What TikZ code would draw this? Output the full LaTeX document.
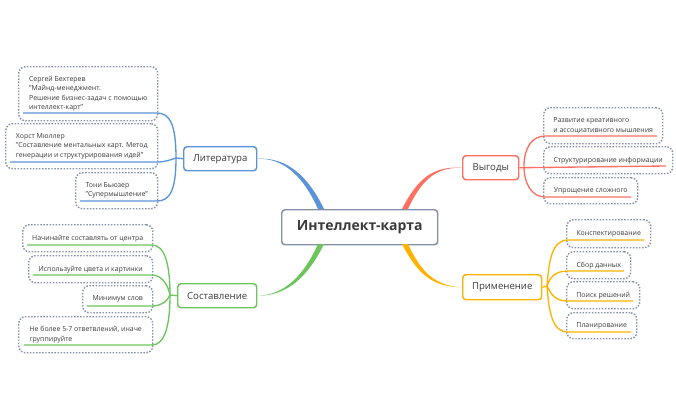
\documentclass[tikz,border=0pt]{standalone}
\usepackage{fontspec}
\setmainfont{Open Sans}
\definecolor{litblue}{HTML}{5B93D8}
\definecolor{sostgreen}{HTML}{6CC55C}
\definecolor{vygred}{HTML}{FF6F61}
\definecolor{primyellow}{HTML}{FFB300}
\definecolor{slateline}{HTML}{8490A8}
\definecolor{inktext}{HTML}{3A3A3A}
\begin{document}
\begin{tikzpicture}[x=0.75pt, y=-0.75pt]
    % Styles
    \tikzstyle{leaf} = [draw=slateline, line width=1.1pt, dash pattern=on 1.1pt off 1.2pt, rounded corners=5pt, anchor=north west, inner sep=0pt, align=left, font=\fontsize{5.2}{6.9}\selectfont, text=inktext]
    \tikzstyle{topic} = [draw, fill=white, line width=1.1pt, rounded corners=2.5pt, anchor=north west, inner sep=0pt, minimum height=18pt, font=\fontsize{7.2}{9}\selectfont, text=inktext]
    \tikzstyle{root} = [topic, draw=slateline, minimum width=117pt, minimum height=26.25pt, font=\fontsize{10.5}{13}\selectfont\bfseries, text=inktext]
    \tikzstyle{edge} = [line width=1pt]

    \useasboundingbox (0, 0) rectangle (676, 418);

    % Nodes
    \node[root] (center) at (281, 209) {Интеллект-карта};

    \node[topic, draw=litblue, minimum width=54.75pt] (lit) at (183, 146) {Литература};
    \node[leaf, minimum width=104.25pt, minimum height=40.5pt] (lit1) at (18, 66) {Сергей Бехтерев\\"Майнд-менеджмент.\\Решение бизнес-задач с помощью\\интеллект-карт"};
    \node[leaf, minimum width=114pt, minimum height=33.75pt] (lit2) at (5, 123) {Хорст Мюллер\\"Составление ментальных карт. Метод\\генерации и структурирования идей"};
    \node[leaf, minimum width=61.5pt, minimum height=27pt] (lit3) at (75, 172) {Тони Бьюзер\\"Супермышление"};

    \node[topic, draw=sostgreen, minimum width=59.25pt] (sost) at (177, 283) {Составление};
    \node[leaf, minimum width=97.5pt, minimum height=20.25pt] (sost1) at (22, 224) {Начинайте составлять от центра};
    \node[leaf, minimum width=93pt, minimum height=20.25pt] (sost2) at (28, 255) {Используйте цвета и картинки};
    \node[leaf, minimum width=52.5pt, minimum height=20.25pt] (sost3) at (82, 285) {Минимум слов};
    \node[leaf, minimum width=100.5pt, minimum height=27pt] (sost4) at (18, 316) {Не более 5-7 ответвлений, иначе\\группируйте};

    \node[topic, draw=vygred, minimum width=42pt] (vyg) at (462, 155) {Выгоды};
    \node[leaf, minimum width=89.25pt, minimum height=27pt] (vyg1) at (543, 107) {Развитие креативного\\и ассоциативного мышления};
    \node[leaf, minimum width=96.75pt, minimum height=20.25pt] (vyg2) at (543, 146) {Структурирование информации};
    \node[leaf, minimum width=70.5pt, minimum height=19.5pt] (vyg3) at (543, 177) {Упрощение сложного};

    \node[topic, draw=primyellow, minimum width=59.25pt, minimum height=18.75pt] (prim) at (462, 274) {Применение};
    \node[leaf, minimum width=63pt, minimum height=21pt] (prim1) at (566, 219) {Конспектирование};
    \node[leaf, minimum width=48pt, minimum height=20.25pt] (prim2) at (566, 251) {Сбор данных};
    \node[leaf, minimum width=54.75pt, minimum height=20.25pt] (prim3) at (566, 281) {Поиск решений};
    \node[leaf, minimum width=52.5pt, minimum height=19.5pt] (prim4) at (566, 312) {Планирование};

    % Junctions and underlines
    \coordinate (litj) at (176, 158);
    \coordinate (lit1a) at (23, 113);
    \coordinate (lit1b) at (157, 113);
    \coordinate (lit2a) at (10, 162);
    \coordinate (lit2b) at (157, 162);
    \coordinate (lit3a) at (80, 201);
    \coordinate (lit3b) at (157, 201);

    \coordinate (sostj) at (170, 295);
    \coordinate (sost1a) at (27, 245);
    \coordinate (sost1b) at (152, 245);
    \coordinate (sost2a) at (33, 275);
    \coordinate (sost2b) at (152, 275);
    \coordinate (sost3a) at (87, 306);
    \coordinate (sost3b) at (152, 306);
    \coordinate (sost4a) at (24, 345);
    \coordinate (sost4b) at (152, 345);

    \coordinate (vygj) at (524, 166);
    \coordinate (vyg1a) at (545, 136);
    \coordinate (vyg1b) at (657, 136);
    \coordinate (vyg2b) at (666, 166);
    \coordinate (vyg3a) at (545, 197);
    \coordinate (vyg3b) at (631, 197);

    \coordinate (primj) at (547, 286);
    \coordinate (prim1a) at (568, 240);
    \coordinate (prim1b) at (644, 240);
    \coordinate (prim2a) at (568, 271);
    \coordinate (prim2b) at (624, 271);
    \coordinate (prim3a) at (568, 301);
    \coordinate (prim3b) at (633, 301);
    \coordinate (prim4a) at (568, 332);
    \coordinate (prim4b) at (631, 332);

    % Main branches
    \coordinate (litm1) at (318, 209);
    \coordinate (litm2) at (324, 209);
    \coordinate (sostm1) at (318, 244);
    \coordinate (sostm2) at (324, 244);
    \coordinate (vygm1) at (402, 209);
    \coordinate (vygm2) at (408, 209);
    \coordinate (primm1) at (402, 244);
    \coordinate (primm2) at (408, 244);
    \fill[litblue] (lit.east) .. controls (285, 158) and (304, 178) .. (litm1) -- (litm2) .. controls (308, 176) and (287, 157) .. (lit.east);
    \fill[sostgreen] (sost.east) .. controls (285, 295) and (304, 275) .. (sostm1) -- (sostm2) .. controls (308, 277) and (287, 296) .. (sost.east);
    \fill[vygred] (vyg.west) .. controls (433, 166) and (418, 178) .. (vygm1) -- (vygm2) .. controls (421, 181) and (435, 167) .. (vyg.west);
    \fill[primyellow] (prim.west) .. controls (433, 287) and (418, 275) .. (primm1) -- (primm2) .. controls (421, 272) and (435, 286) .. (prim.west);

    % Edges
    \draw[edge, litblue] (lit.west) -- (litj);
    \draw[edge, litblue] (lit1a) -- (lit1b) .. controls (170, 113) and (176, 125) .. (litj);
    \draw[edge, litblue] (lit2a) -- (lit2b) .. controls (165, 162) and (170, 160) .. (litj);
    \draw[edge, litblue] (lit3a) -- (lit3b) .. controls (170, 201) and (176, 190) .. (litj);

    \draw[edge, sostgreen] (sost.west) -- (sostj);
    \draw[edge, sostgreen] (sost1a) -- (sost1b) .. controls (165, 245) and (170, 265) .. (sostj);
    \draw[edge, sostgreen] (sost2a) -- (sost2b) .. controls (162, 275) and (168, 285) .. (sostj);
    \draw[edge, sostgreen] (sost3a) -- (sost3b) .. controls (162, 306) and (168, 300) .. (sostj);
    \draw[edge, sostgreen] (sost4a) -- (sost4b) .. controls (165, 345) and (170, 325) .. (sostj);

    \draw[edge, vygred] (vyg.east) -- (vyg2b);
    \draw[edge, vygred] (vygj) .. controls (524, 148) and (532, 136) .. (vyg1a) -- (vyg1b);
    \draw[edge, vygred] (vygj) .. controls (524, 184) and (532, 197) .. (vyg3a) -- (vyg3b);

    \draw[edge, primyellow] (prim.east) -- (primj);
    \draw[edge, primyellow] (primj) .. controls (549, 260) and (552, 240) .. (prim1a) -- (prim1b);
    \draw[edge, primyellow] (primj) .. controls (550, 278) and (554, 271) .. (prim2a) -- (prim2b);
    \draw[edge, primyellow] (primj) .. controls (552, 296) and (556, 301) .. (prim3a) -- (prim3b);
    \draw[edge, primyellow] (primj) .. controls (549, 312) and (552, 332) .. (prim4a) -- (prim4b);
\end{tikzpicture}
\end{document}
